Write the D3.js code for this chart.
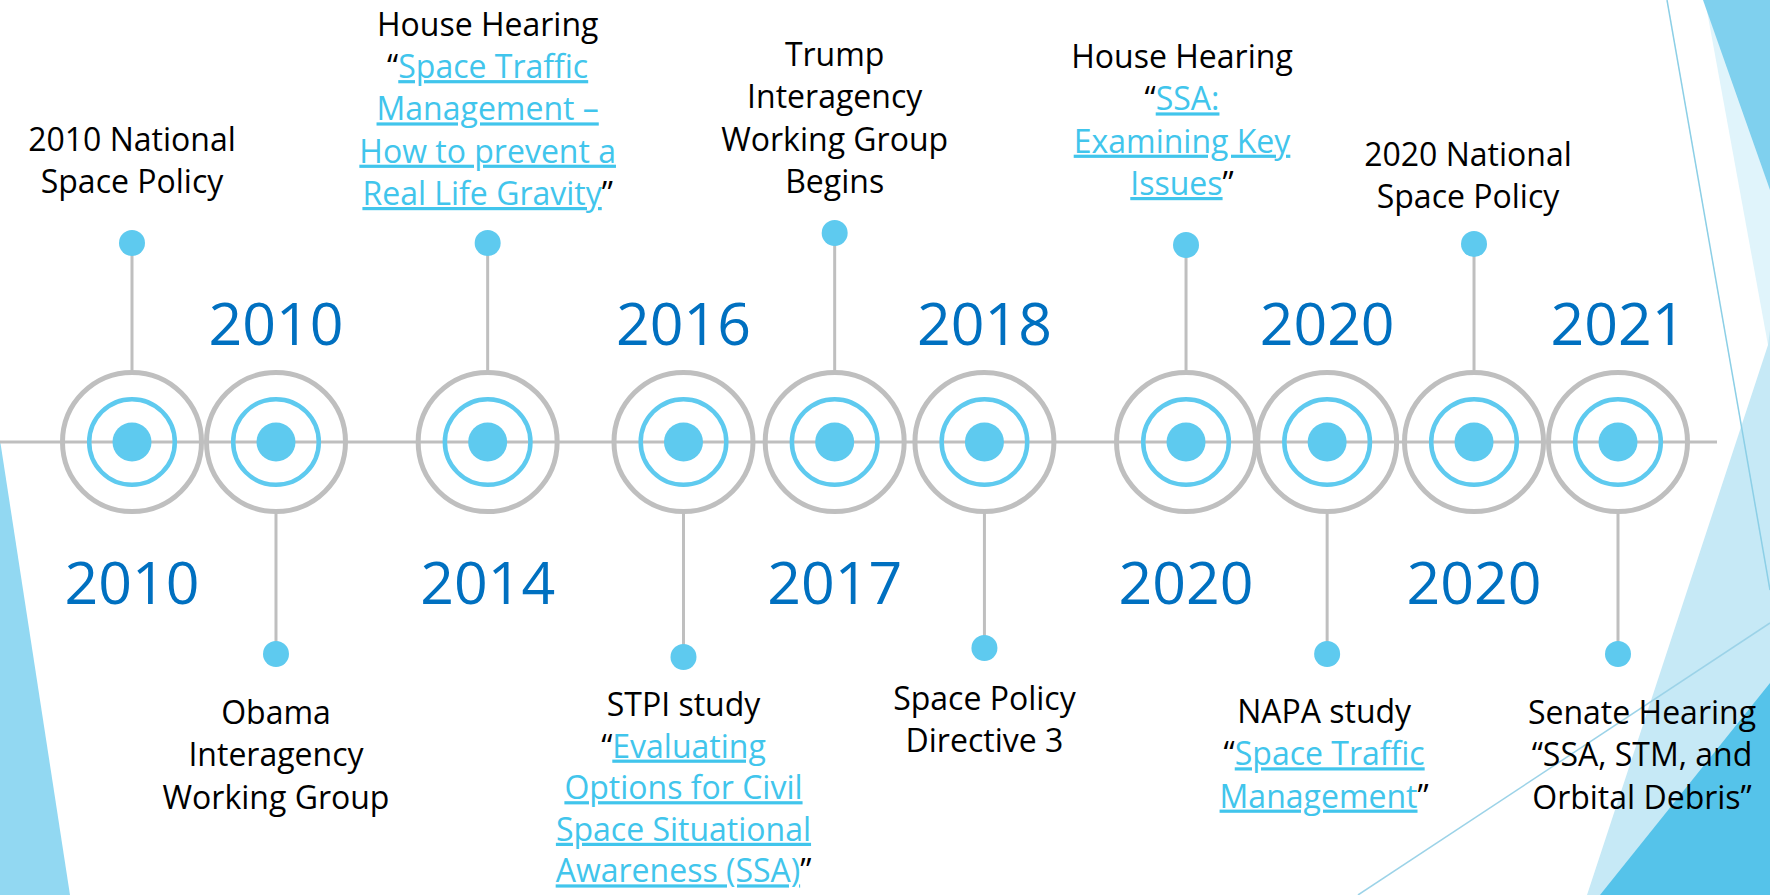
<!DOCTYPE html>
<html><head><meta charset="utf-8">
<script src="https://cdn.jsdelivr.net/npm/d3@7"></script>
<style>html,body{margin:0;padding:0;background:#fff;overflow:hidden}</style>
</head><body><svg id="c" width="1770" height="895"></svg>
<script>
// ---- data ----
const years = ["2010","2010","2014","2016","2017","2018","2020","2020","2020","2021"];
// position of each event along the timeline (in circle-widths from the first event)
const timelinePos = [0, 1.0, 2.47, 3.83, 4.88, 5.92, 7.32, 8.30, 9.32, 10.32];
const side = ["up","down","up","down","up","down","up","down","up","down"];
// [..] marks hyperlinked text
const labels = [
  ["2010 National","Space Policy"],
  ["Obama","Interagency","Working Group"],
  ["House Hearing","“[Space Traffic]","[Management –]","[How to prevent a]","[Real Life Gravity]”"],
  ["STPI study","“[Evaluating]","[Options for Civil]","[Space Situational]","[Awareness (SSA)]”"],
  ["Trump","Interagency","Working Group","Begins"],
  ["Space Policy","Directive 3"],
  ["House Hearing","“[SSA:]","[Examining Key]","[Issues]”"],
  ["NAPA study","“[Space Traffic]","[Management]”"],
  ["2020 National","Space Policy"],
  ["Senate Hearing","“SSA, STM, and","Orbital Debris”"]
];

// ---- layout ----
const W = 1770, H = 895, axisY = 442;
const pinY = [243, 654, 243, 657, 233, 648, 245, 654, 244, 654];
const textBase = [193, 724, 205, 716, 193, 710, 195, 723, 208, 724]; // last line (up) / first line (down)
const textDx = [0,0,0,0,0,0,-4,-3,-6,24];
const lineHs = [42.3, 42.3, 42.3, 41.6, 42.3, 42.3, 42.3, 42.3, 42.3, 42.3];
const grey = "#BFBFBF", cyan = "#5ECAEF", linkC = "#41C5EC", yearC = "#0070C0";

const svg = d3.select("#c");
const x = d3.scaleLinear().domain([0, d3.max(timelinePos)]).range([132, 1618]);

// background decorations
const deco = svg.append("g");
const poly = (pts, fill) => deco.append("path").attr("d", d3.line()(pts) + "Z").attr("fill", fill);
poly([[0,440],[70,895],[0,895]], "#92D8F2");
poly([[1705,0],[1768,345],[1770,345],[1770,0]], "#E0F4FB");
poly([[1770,330],[1768,345],[1587,895],[1770,895]], "#C6E9F6");
poly([[1703,0],[1770,0],[1770,190]], "#7FD0EE");
poly([[1600,895],[1770,683],[1770,895]], "#55C3EA");
deco.append("line").attr("x1",1667).attr("y1",0).attr("x2",1770).attr("y2",590)
  .attr("stroke","#8CCFE6").attr("stroke-width",1.5);
deco.append("line").attr("x1",1358).attr("y1",895).attr("x2",1770).attr("y2",623)
  .attr("stroke","#9CD3E8").attr("stroke-width",1.5);

// axis line
svg.append("line").attr("x1",0).attr("x2",1717).attr("y1",axisY).attr("y2",axisY)
  .attr("stroke",grey).attr("stroke-width",3);

const ev = svg.selectAll("g.ev").data(years.map((y,i)=>({i, year:y, pos:timelinePos[i], side:side[i], lines:labels[i]})))
  .join("g").attr("class","ev");

const R = 69.5;
// stems
ev.append("line")
  .attr("x1", d=>x(d.pos)).attr("x2", d=>x(d.pos))
  .attr("y1", d=> d.side==="up" ? axisY-R-2 : axisY+R+2)
  .attr("y2", d=> pinY[d.i])
  .attr("stroke",grey).attr("stroke-width",3);
ev.append("circle").attr("cx",d=>x(d.pos)).attr("cy",d=>pinY[d.i]).attr("r",13).attr("fill",cyan);
// target rings
ev.append("circle").attr("cx",d=>x(d.pos)).attr("cy",axisY).attr("r",R)
  .attr("fill","none").attr("stroke",grey).attr("stroke-width",5);
ev.append("circle").attr("cx",d=>x(d.pos)).attr("cy",axisY).attr("r",42.8)
  .attr("fill","none").attr("stroke",cyan).attr("stroke-width",4.5);
ev.append("circle").attr("cx",d=>x(d.pos)).attr("cy",axisY).attr("r",19.5).attr("fill",cyan);

// years
ev.append("text")
  .attr("x", d=>x(d.pos)).attr("y", d=> d.side==="up" ? 604 : 345)
  .attr("text-anchor","middle")
  .attr("font-family","'Open Sans', sans-serif").attr("font-size",59)
  .attr("fill",yearC).text(d=>d.year);

// labels
ev.each(function(d){
  const g = d3.select(this);
  const n = d.lines.length;
  const lineH = lineHs[d.i];
  const cx = x(d.pos) + textDx[d.i];
  d.lines.forEach((ln, k) => {
    const y = d.side==="up" ? textBase[d.i] - (n-1-k)*lineH : textBase[d.i] + k*lineH;
    const t = g.append("text").attr("x",cx).attr("y",y).attr("text-anchor","middle")
      .attr("font-family","'Open Sans', sans-serif").attr("font-size",32).attr("fill","#000");
    ln.split(/(\[[^\]]*\])/).filter(s=>s.length).forEach(seg => {
      if (seg[0]==="[") {
        t.append("tspan").text(seg.slice(1,-1)).attr("fill",linkC)
          .style("text-decoration","underline");
      } else {
        t.append("tspan").text(seg);
      }
    });
  });
});
</script></body></html>
